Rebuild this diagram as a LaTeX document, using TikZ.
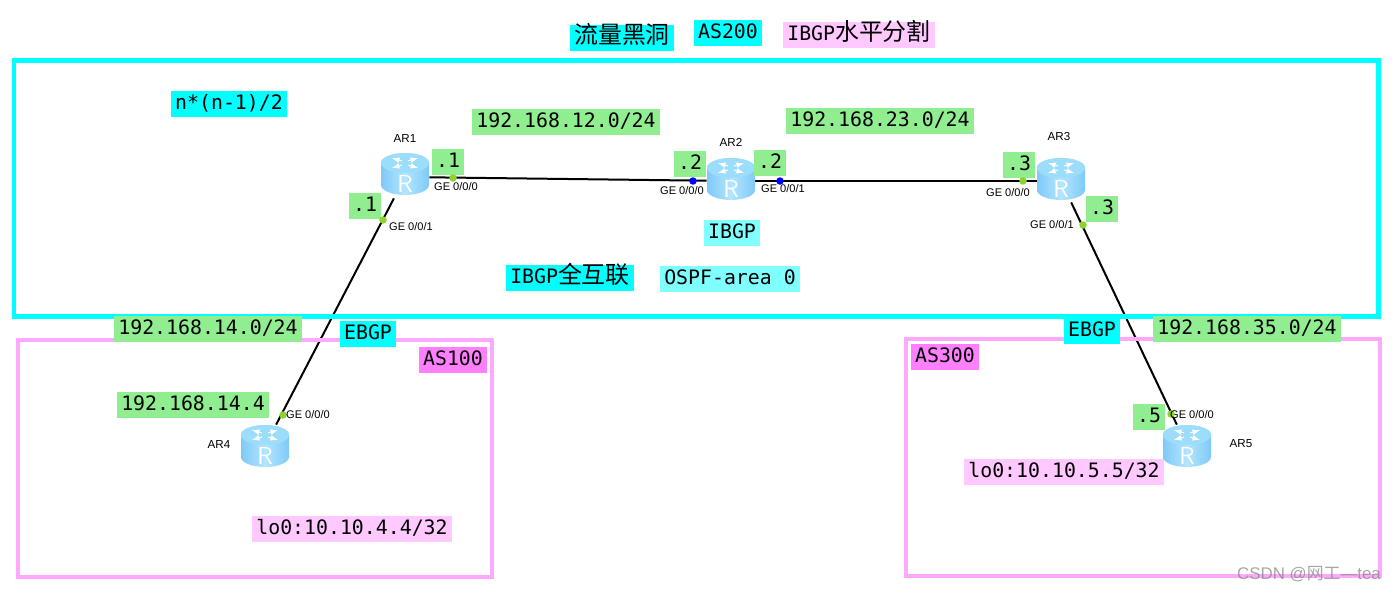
\documentclass[tikz,border=0pt]{standalone}
\usepackage{fontspec}
\setmainfont{Liberation Sans}
\setmonofont{DejaVu Sans Mono}
\newfontfamily\cjk{Noto Sans CJK SC}
\usetikzlibrary{backgrounds}
\definecolor{tagcyan}{HTML}{00FFFF}
\definecolor{taggreen}{HTML}{90EE90}
\definecolor{tagpink}{HTML}{FFC8FF}
\definecolor{tagsky}{HTML}{80FFFF}
\definecolor{tagmagenta}{HTML}{FF80FF}
\definecolor{framepink}{HTML}{FFA8FF}
\definecolor{portgreen}{HTML}{8CD42C}
\definecolor{routerside}{HTML}{7FC9F7}
\definecolor{routermid}{HTML}{B4E6FF}
\definecolor{routertop}{HTML}{9CDDFB}
\newcommand{\cjktext}[1]{{\cjk\fontsize{13.6}{14}\selectfont #1}}
\tikzset{
	tag/.style={inner xsep=.08cm, inner ysep=2.4pt, text height=8.5pt, text depth=2pt, font=\ttfamily\fontsize{11.3}{13}\selectfont, text=black},
	greentag/.style={tag, fill=taggreen},
	cyantag/.style={tag, fill=tagcyan},
	pinktag/.style={tag, fill=tagpink},
	skytag/.style={tag, fill=tagsky},
	magentatag/.style={tag, fill=tagmagenta},
	port/.style={font=\fontsize{6.3}{7}\selectfont, inner sep=0pt},
	rname/.style={font=\fontsize{6.6}{8}\selectfont, inner sep=0pt},
	dotg/.style={circle, fill=portgreen, inner sep=0pt, minimum size=.15cm},
	dotb/.style={circle, fill=blue, inner sep=0pt, minimum size=.15cm},
	link/.style={line width=.04cm, black},
	router/.style={minimum width=.96cm, minimum height=.84cm, inner sep=0pt},
	pics/routericon/.style={code={
		\shade[left color=routerside, right color=routerside, middle color=routermid]
			(-24,-11) -- (-24,11) arc (180:0:24 and 10) -- (24,-11) arc (0:-180:24 and 10);
		\fill[routertop] (0,-11) ellipse (24 and 10);
		\draw[white, line width=.5pt, ->] (3,-9) -- (13,-6);
		\draw[white, line width=.5pt, ->] (-3,-9) -- (-13,-6);
		\draw[white, line width=.5pt, ->] (3,-13) -- (13,-16);
		\draw[white, line width=.5pt, ->] (-3,-13) -- (-13,-16);
		\node[text=white, inner sep=0pt, font=\sffamily\fontsize{14}{14}\selectfont] (-r) at (0,10) {R};
	}}
}
\begin{document}
\begin{tikzpicture}[x=.02cm, y=-.02cm, >=latex]
	\useasboundingbox (0,0) rectangle (1396,592);
	% 1. 三个 AS 区域框
	\draw[tagcyan, line width=.1cm] (14,60) rectangle (1378,316);
	\draw[framepink, line width=.08cm] (18,340) rectangle (492,577);
	\draw[framepink, line width=.08cm] (906,339) rectangle (1380,576);
	
	% 2. 路由器
	\pic (iconAR1) at (405,174) {routericon};
	\pic (iconAR2) at (731,179) {routericon};
	\pic (iconAR3) at (1061,179) {routericon};
	\pic (iconAR4) at (265,446) {routericon};
	\pic (iconAR5) at (1187,446) {routericon};
	\node[router] (AR1) at (405,177) {};
	\node[router] (AR2) at (731,181) {};
	\node[router] (AR3) at (1061,181) {};
	\node[router] (AR4) at (265,446) {};
	\node[router] (AR5) at (1187,446) {};
	
	% 3. 链路（在路由器下方）
	\begin{scope}[on background layer]
		\draw[link] (AR1) -- (AR2);
		\draw[link] (AR2) -- (AR3);
		\draw[link] (AR1) -- (AR4);
		\draw[link] (AR3) -- (AR5);
	\end{scope}
	
	% 4. 路由器名称
	\node[rname] (nameAR1) at (405,139) {AR1};
	\node[rname] (nameAR2) at (731,142) {AR2};
	\node[rname] (nameAR3) at (1059,137) {AR3};
	\node[rname] (nameAR4) at (219,445) {AR4};
	\node[rname] (nameAR5) at (1241,444) {AR5};
	
	% 5. 顶部与区域标签
	\node[cyantag] (blackhole) at (622,38) {\cjktext{流量黑洞}};
	\node[cyantag] (as200) at (728,33) {AS200};
	\node[pinktag] (split) at (859,35) {IBGP\cjktext{水平分割}};
	\node[cyantag] (formula) at (229,104) {n*(n-1)/2};
	\node[skytag] (ibgp) at (732,233) {IBGP};
	\node[cyantag] (fullmesh) at (570,278) {IBGP\cjktext{全互联}};
	\node[skytag] (ospf) at (730,279) {OSPF-area 0};
	\node[cyantag] (ebgpL) at (368,334) {EBGP};
	\node[cyantag] (ebgpR) at (1092,331) {EBGP};
	\node[magentatag] (as100) at (453,360) {AS100};
	\node[magentatag] (as300) at (945,357) {AS300};
	
	% 6. 网段与地址
	\node[greentag] (net12) at (566,122) {192.168.12.0/24};
	\node[greentag] (net23) at (880,121) {192.168.23.0/24};
	\node[greentag] (net14) at (208,329) {192.168.14.0/24};
	\node[greentag] (net35) at (1247,329) {192.168.35.0/24};
	\node[greentag] (addr14) at (193,405) {192.168.14.4};
	\node[pinktag] (lo4) at (352,529) {lo0:10.10.4.4/32};
	\node[pinktag] (lo5) at (1064,472) {lo0:10.10.5.5/32};
	
	% 7. 接口地址
	\node[greentag] (ip1a) at (448,162) {.1};
	\node[greentag] (ip1b) at (365,206) {.1};
	\node[greentag] (ip2a) at (690,164) {.2};
	\node[greentag] (ip2b) at (770,163) {.2};
	\node[greentag] (ip3a) at (1019,165) {.3};
	\node[greentag] (ip3b) at (1102,209) {.3};
	\node[greentag] (ip5) at (1149,417) {.5};
	
	% 8. 接口圆点
	\node[dotg] (p1a) at (453,178) {};
	\node[dotg] (p1b) at (383,220) {};
	\node[dotb] (p2a) at (693,181) {};
	\node[dotb] (p2b) at (780,181) {};
	\node[dotg] (p3a) at (1023,181) {};
	\node[dotg] (p3b) at (1083,225) {};
	\node[dotg] (p4) at (283,415) {};
	\node[dotg] (p5) at (1171,414) {};
	
	% 9. 接口名称
	\node[port] (ge1a) at (456,187) {GE 0/0/0};
	\node[port] (ge1b) at (411,227) {GE 0/0/1};
	\node[port] (ge2a) at (682,191) {GE 0/0/0};
	\node[port] (ge2b) at (783,189) {GE 0/0/1};
	\node[port] (ge3a) at (1008,193) {GE 0/0/0};
	\node[port] (ge3b) at (1052,225) {GE 0/0/1};
	\node[port] (ge4) at (308,415) {GE 0/0/0};
	\node[port] (ge5) at (1192,415) {GE 0/0/0};
	
	% 10. 水印
	\node[text=gray, text opacity=.7, inner sep=0pt, font=\fontsize{9.6}{10}\selectfont] (mark) at (1309,574) {CSDN @{\cjk 网工}—tea};
\end{tikzpicture}
\end{document}
